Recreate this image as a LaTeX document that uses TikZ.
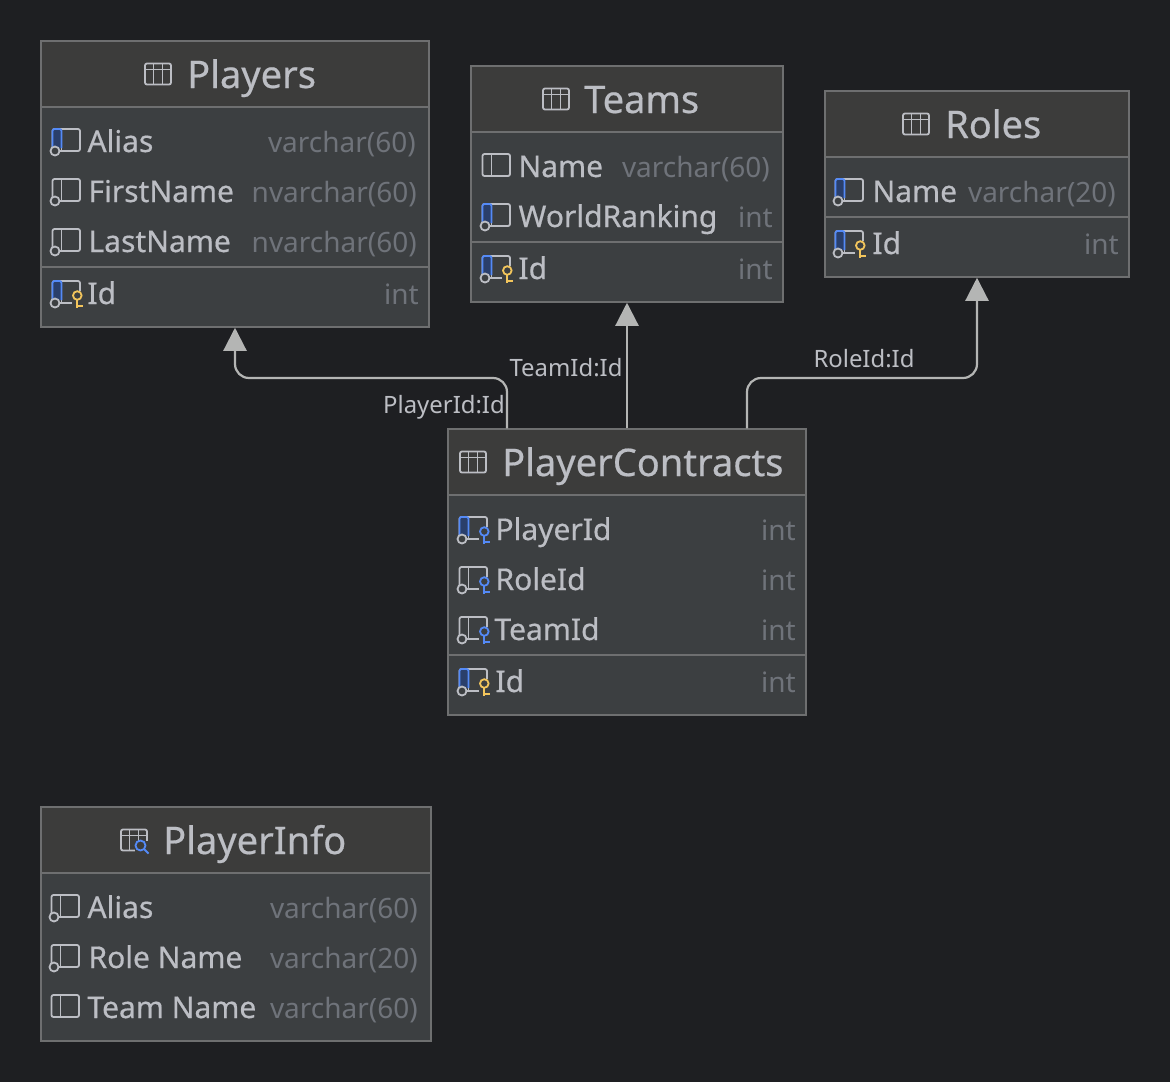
\documentclass[tikz,border=0pt]{standalone}
\usepackage{fontspec}
\setmainfont{Noto Sans}
\newfontfamily\heavyfont[FakeBold=0.5]{Noto Sans}
\usetikzlibrary{arrows.meta}
\definecolor{canvasbg}{HTML}{1E1F22}
\definecolor{bodybg}{HTML}{3C3F41}
\definecolor{headbg}{HTML}{3C3C3B}
\definecolor{edgegray}{HTML}{6E6F70}
\definecolor{namegray}{HTML}{BCBEC4}
\definecolor{typegray}{HTML}{6F737A}
\definecolor{linkgray}{HTML}{B4B5B4}
\definecolor{iconblue}{HTML}{548AF7}
\definecolor{stripblue}{HTML}{2A3F6B}
\definecolor{iconyellow}{HTML}{F2C55C}
\tikzset{
  tablebody/.style={draw=edgegray, fill=bodybg, line width=1.5pt, inner sep=0pt},
  tablehead/.style={fill=headbg, inner sep=0pt, anchor=north west},
  divider/.style={draw=edgegray, line width=1.5pt},
  titletext/.style={text=namegray, font=\heavyfont\fontsize{38}{38}\selectfont, anchor=base west, inner sep=0pt, yshift=-1pt},
  rowname/.style={text=namegray, font=\heavyfont\fontsize{30}{30}\selectfont, anchor=base west, inner sep=0pt, xshift=-0.7pt, yshift=-1pt},
  rowtype/.style={text=typegray, font=\fontsize{28}{28}\selectfont, anchor=base east, inner sep=0pt, xshift=1pt, yshift=-1pt},
  linklabel/.style={text=namegray, font=\fontsize{23.9}{24}\selectfont, anchor=base, inner sep=0pt, yshift=-1pt},
  link/.style={draw=linkgray, line width=2.2pt, rounded corners=14pt, -{Triangle[length=23pt,width=23pt]}},
  iconline/.style={draw=namegray, line width=1.8pt},
  pics/colframe/.style={code={
    \draw[iconline, rounded corners=2pt] (-13.5,-11) rectangle (14,11);
    \draw[iconline] (-4.5,-11) -- (-4.5,11);
  }},
  pics/colnotnull/.style={code={
    \pic {colframe};
    \draw[iconline, fill=bodybg] (-11,11) circle (4.5);
  }},
  pics/colindex/.style={code={
    \pic {colframe};
    \fill[stripblue] (-13.5,-11) rectangle (-4.5,8);
    \draw[iconblue, line width=1.8pt, rounded corners=2pt] (-13.5,7) -- (-13.5,-11) -- (-4.5,-11) -- (-4.5,8);
    \draw[iconline, fill=bodybg] (-11,11) circle (4.5);
  }},
  pics/keyicon/.style={code={
    \fill[bodybg] (6,-1) rectangle (18,17);
    \draw[draw=#1, line width=1.8pt] (11.3,3.5) circle (4.3);
    \draw[draw=#1, line width=1.8pt] (11.3,7.8) -- (11.3,15.5);
    \draw[draw=#1, line width=1.8pt] (11.3,14) -- (16.5,14);
    \draw[iconline] (-2,11) -- (5,11);
    \draw[iconline] (14,-9) -- (14,-3);
  }},
  pics/tableicon/.style={code={
    \draw[iconline, rounded corners=2pt] (-13,-10.5) rectangle (13,10.5);
    \draw[iconline] (-13,-4.5) -- (13,-4.5);
    \draw[iconline] (-4.5,-10.5) -- (-4.5,10.5);
    \draw[iconline] (4.5,-10.5) -- (4.5,10.5);
  }},
  pics/viewicon/.style={code={
    \pic {tableicon};
    \fill[headbg] (1,1) rectangle (15,15);
    \draw[draw=iconblue, line width=1.8pt] (6.5,5.5) circle (5);
    \draw[draw=iconblue, line width=1.8pt] (10,9) -- (14.5,13.5);
  }},
}
\begin{document}
\begin{tikzpicture}[x=1pt, y=-1pt]
\useasboundingbox (0,0) rectangle (1170,1082);
\fill[canvasbg] (0,0) rectangle (1170,1082);
\coordinate (lane) at (0,378);
% Players
\node[tablebody, minimum width=388, minimum height=286] (Players) at (235,184) {};
\node[tablehead, minimum width=386.5, minimum height=65] (PlayersHead) at (41.75,41.75) {};
\draw[divider] (Players.west |- 0,107) -- (Players.east |- 0,107);
\draw[divider] (Players.west |- 0,267) -- (Players.east |- 0,267);
\pic at (158,74) {tableicon};
\node[titletext] (PlayersTitle) at (187,87) {Players};
\pic at (66,140) {colindex};
\node[rowname] (PlayersAlias) at (88,151) {Alias};
\node[rowtype] (PlayersAliasType) at (415,151) {varchar(60)};
\pic at (66,190) {colnotnull};
\node[rowname] (PlayersFirst) at (89,201) {FirstName};
\node[rowtype] (PlayersFirstType) at (416,201) {nvarchar(60)};
\pic at (66,240) {colnotnull};
\node[rowname] (PlayersLast) at (89,251) {LastName};
\node[rowtype] (PlayersLastType) at (416,251) {nvarchar(60)};
\pic at (66,292) {colindex};
\pic at (66,292) {keyicon=iconyellow};
\node[rowname] (PlayersId) at (88,303) {Id};
\node[rowtype] (PlayersIdType) at (418,303) {int};
% Teams
\node[tablebody, minimum width=312, minimum height=236] (Teams) at (627,184) {};
\node[tablehead, minimum width=310.5, minimum height=65] (TeamsHead) at (471.75,66.75) {};
\draw[divider] (Teams.west |- 0,132) -- (Teams.east |- 0,132);
\draw[divider] (Teams.west |- 0,242) -- (Teams.east |- 0,242);
\pic at (556,99) {tableicon};
\node[titletext] (TeamsTitle) at (584,112) {Teams};
\pic at (496,165) {colframe};
\node[rowname] (TeamsName) at (519,176) {Name};
\node[rowtype] (TeamsNameType) at (769,176) {varchar(60)};
\pic at (496,215) {colindex};
\node[rowname] (TeamsRank) at (519,226) {WorldRanking};
\node[rowtype] (TeamsRankType) at (772,226) {int};
\pic at (496,267) {colindex};
\pic at (496,267) {keyicon=iconyellow};
\node[rowname] (TeamsId) at (519,278) {Id};
\node[rowtype] (TeamsIdType) at (772,278) {int};
% Roles
\node[tablebody, minimum width=304, minimum height=186] (Roles) at (977,184) {};
\node[tablehead, minimum width=302.5, minimum height=65] (RolesHead) at (825.75,91.75) {};
\draw[divider] (Roles.west |- 0,157) -- (Roles.east |- 0,157);
\draw[divider] (Roles.west |- 0,217) -- (Roles.east |- 0,217);
\pic at (916,124) {tableicon};
\node[titletext] (RolesTitle) at (945,137) {Roles};
\pic at (849,190) {colindex};
\node[rowname] (RolesName) at (873,201) {Name};
\node[rowtype] (RolesNameType) at (1115,201) {varchar(20)};
\pic at (849,242) {colindex};
\pic at (849,242) {keyicon=iconyellow};
\node[rowname] (RolesId) at (873,253) {Id};
\node[rowtype] (RolesIdType) at (1118,253) {int};
% PlayerContracts
\node[tablebody, minimum width=358, minimum height=286] (PlayerContracts) at (627,572) {};
\node[tablehead, minimum width=356.5, minimum height=65] (PlayerContractsHead) at (448.75,429.75) {};
\draw[divider] (PlayerContracts.west |- 0,495) -- (PlayerContracts.east |- 0,495);
\draw[divider] (PlayerContracts.west |- 0,655) -- (PlayerContracts.east |- 0,655);
\pic at (473,462) {tableicon};
\node[titletext] (PlayerContractsTitle) at (502,475) {PlayerContracts};
\pic at (473,528) {colindex};
\pic at (473,528) {keyicon=iconblue};
\node[rowname] (ContractsPlayer) at (496,539) {PlayerId};
\node[rowtype] (ContractsPlayerType) at (795,539) {int};
\pic at (473,578) {colnotnull};
\pic at (473,578) {keyicon=iconblue};
\node[rowname] (ContractsRole) at (496,589) {RoleId};
\node[rowtype] (ContractsRoleType) at (795,589) {int};
\pic at (473,628) {colnotnull};
\pic at (473,628) {keyicon=iconblue};
\node[rowname] (ContractsTeam) at (495,639) {TeamId};
\node[rowtype] (ContractsTeamType) at (795,639) {int};
\pic at (473,680) {colindex};
\pic at (473,680) {keyicon=iconyellow};
\node[rowname] (ContractsId) at (496,691) {Id};
\node[rowtype] (ContractsIdType) at (795,691) {int};
% PlayerInfo
\node[tablebody, minimum width=390, minimum height=234] (PlayerInfo) at (236,924) {};
\node[tablehead, minimum width=388.5, minimum height=65] (PlayerInfoHead) at (41.75,807.75) {};
\draw[divider] (PlayerInfo.west |- 0,873) -- (PlayerInfo.east |- 0,873);
\pic at (134,840) {viewicon};
\node[titletext] (PlayerInfoTitle) at (163,853) {PlayerInfo};
\pic at (65,906) {colnotnull};
\node[rowname] (InfoAlias) at (88,917) {Alias};
\node[rowtype] (InfoAliasType) at (417,917) {varchar(60)};
\pic at (65,956) {colnotnull};
\node[rowname] (InfoRole) at (89,967) {Role Name};
\node[rowtype] (InfoRoleType) at (417,967) {varchar(20)};
\pic at (65,1006) {colframe};
\node[rowname] (InfoTeam) at (88,1017) {Team Name};
\node[rowtype] (InfoTeamType) at (417,1017) {varchar(60)};
% links
\draw[link] ([xshift=-120]PlayerContracts.north) -- ([xshift=-120]PlayerContracts.north |- lane) -- (Players.south |- lane) -- (Players.south);
\draw[link] (PlayerContracts.north) -- (Teams.south);
\draw[link] ([xshift=120]PlayerContracts.north) -- ([xshift=120]PlayerContracts.north |- lane) -- (Roles.south |- lane) -- (Roles.south);
\node[linklabel] (PlayerLabel) at (444,412) {PlayerId:Id};
\node[linklabel] (TeamLabel) at (566,375) {TeamId:Id};
\node[linklabel] (RoleLabel) at (864,366) {RoleId:Id};
\end{tikzpicture}
\end{document}
